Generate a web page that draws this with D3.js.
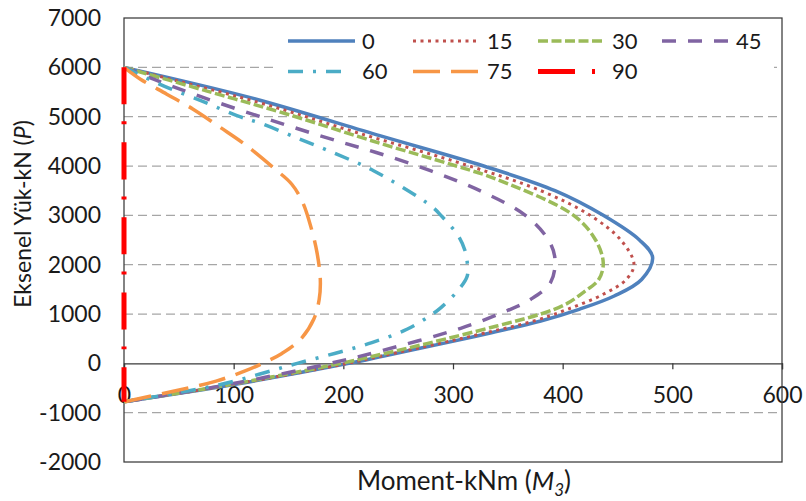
<!DOCTYPE html>
<html>
<head>
<meta charset="utf-8">
<script src="https://cdn.jsdelivr.net/npm/d3@7/dist/d3.min.js"></script>
<style>
  body { margin: 0; background: #fff; }
  text { font-family: Lato, "Open Sans", sans-serif; fill: #1a1a1a; }
</style>
</head>
<body>
<div id="chart"></div>
<script>
// angle of the moment axis, one curve for each
const angles = ['0', '15', '30', '45', '60', '75', '90'];

// axial load P (kN) and moment M3 (kNm), top to bottom
const load0 = [6000, 5370, 4610, 4000, 3500, 3000, 2500, 2150, 1700, 1365, 1095, 858, 620, 400, 150, 0, -430, -780];
const moment0 = [0, 118, 234, 328, 393, 437, 470, 482, 472, 447, 415, 380, 335, 290, 237, 205, 100, 0];

const load15 = [6000, 5300, 4680, 4000, 3500, 3000, 2500, 2010, 1700, 1400, 1100, 860, 620, 400, 150, 0, -430, -780];
const moment15 = [0, 121, 212, 315, 380, 425, 453, 465, 458, 437, 405, 374, 330, 287, 235, 204, 99, 0];

const load30 = [6000, 5523, 5050, 4456, 4000, 3730, 3000, 2500, 2040, 1704, 1440, 1200, 1000, 757, 400, 150, 0, -430, -780];
const moment30 = [0, 75, 149, 234, 303, 340, 410, 430, 437, 433, 419, 403, 380, 340, 276, 228, 198, 97, 0];

const load45 = [6000, 5760, 5390, 4915, 4510, 4274, 3900, 3495, 3000, 2500, 2110, 1640, 1300, 1000, 710, 250, 0, -430, -780];
const moment45 = [0, 27, 72, 136, 194, 230, 280, 325, 366, 387, 393, 389, 371, 342, 307, 234, 188, 95, 0];

const load60 = [6000, 5625, 5290, 5020, 4870, 4558, 4240, 3900, 3190, 2975, 2580, 2280, 2040, 1770, 1490, 1130, 950, 690, 420, 200, 0, -190, -430, -780];
const moment60 = [0, 36, 74, 103, 124, 159, 194, 228, 280, 290, 305, 311, 313, 313, 305, 289, 278, 258, 226, 192, 158, 128, 88, 0];

const load75 = [6000, 5760, 5456, 5152, 4780, 4442, 3950, 3630, 3260, 2718, 2245, 1704, 1298, 893, 487, 200, 47, -150, -360, -560, -780];
const moment75 = [0, 15, 39, 63, 88, 110, 137, 153, 163, 171, 176, 179, 178, 173, 161, 144, 131, 111, 84, 46, 0];

const load90 = [6000, 3000, 0, -780];
const moment90 = [0, 0, 0, 0];

const xTicks = [0, 100, 200, 300, 400, 500, 600];
const yTicks = [-2000, -1000, 0, 1000, 2000, 3000, 4000, 5000, 6000, 7000];

const loads = [load0, load15, load30, load45, load60, load75, load90];
const moments = [moment0, moment15, moment30, moment45, moment60, moment75, moment90];

const styles = [
  { color: '#4F81BD', width: 3.5, dash: null, legendLen: 67 },
  { color: '#C0504D', width: 3, dash: '3 4.5', legendLen: 67 },
  { color: '#9BBB59', width: 3.5, dash: '10 3.5', legendLen: 67 },
  { color: '#8064A2', width: 3.5, dash: '14 12', legendLen: 67 },
  { color: '#4BACC6', width: 3.5, dash: '15 10 3 10', legendLen: 55 },
  { color: '#F79646', width: 3.5, dash: '27 11', legendLen: 67 },
  { color: '#FF0000', width: 5, dash: '37 17 3 18', legendLen: 67 }
];

const width = 806, height = 501;
const margin = { top: 18, right: 24, bottom: 39, left: 124 };

const svg = d3.select('#chart').append('svg')
  .attr('width', width)
  .attr('height', height);

const x = d3.scaleLinear().domain([0, 600]).range([margin.left, width - margin.right]);
const y = d3.scaleLinear().domain([-2000, 7000]).range([height - margin.bottom, margin.top]);

// dashed grid lines
svg.append('g')
  .selectAll('line')
  .data(yTicks.filter(d => d !== 0 && d !== 7000 && d !== -2000))
  .join('line')
  .attr('x1', x(0)).attr('x2', x(600))
  .attr('y1', d => y(d)).attr('y2', d => y(d))
  .attr('stroke', '#a6a6a6')
  .attr('stroke-width', 1.25)
  .attr('stroke-dasharray', '9 5');

// y tick labels (plain hyphen for negatives)
const yAxis = svg.append('g')
  .attr('transform', `translate(${x(0)},0)`)
  .call(d3.axisLeft(y).tickValues(yTicks).tickSize(0).tickPadding(23).tickFormat(d => String(d)));
yAxis.select('.domain').remove();
yAxis.selectAll('text').style('font-size', '23px').attr('fill', '#1a1a1a');

// x axis sits at P = 0
const xAxis = svg.append('g')
  .attr('transform', `translate(0,${y(0)})`)
  .call(d3.axisBottom(x).tickValues(xTicks).tickSize(6).tickPadding(17).tickFormat(d => String(d)));
xAxis.select('.domain').attr('stroke', '#3a3a3a').attr('stroke-width', 1.25);
xAxis.selectAll('.tick line').attr('stroke', '#3a3a3a').attr('stroke-width', 1.25);
xAxis.selectAll('text').style('font-size', '23px').attr('fill', '#1a1a1a');

// plot frame
svg.append('rect')
  .attr('x', x(0)).attr('y', y(7000))
  .attr('width', x(600) - x(0))
  .attr('height', y(-2000) - y(7000))
  .attr('fill', 'none')
  .attr('stroke', '#3a3a3a')
  .attr('stroke-width', 1.25);

// legend background hides the grid behind it
svg.append('rect')
  .attr('x', 276).attr('y', 26)
  .attr('width', 498).attr('height', 60)
  .attr('fill', '#fff');

const line = d3.line()
  .x(d => x(d[1]))
  .y(d => y(d[0]))
  .curve(d3.curveCatmullRom.alpha(0.5));

angles.forEach((a, i) => {
  const pts = loads[i].map((p, j) => [p, moments[i][j]]);
  const s = styles[i];
  svg.append('path')
    .attr('d', line(pts))
    .attr('fill', 'none')
    .attr('stroke', s.color)
    .attr('stroke-width', s.width)
    .attr('stroke-dasharray', s.dash)
    .attr('stroke-linejoin', 'round');
});

// legend, two rows of four
const colX = [288, 413, 538, 662];
const rowY = [41, 71.5];
const legend = svg.append('g');
angles.forEach((a, i) => {
  const lx = colX[i % 4], ly = rowY[Math.floor(i / 4)];
  const s = styles[i];
  legend.append('line')
    .attr('x1', lx).attr('x2', lx + s.legendLen)
    .attr('y1', ly).attr('y2', ly)
    .attr('stroke', s.color)
    .attr('stroke-width', s.width)
    .attr('stroke-dasharray', s.dash);
  legend.append('text')
    .attr('x', lx + 74).attr('y', ly)
    .attr('dy', '0.35em')
    .style('font-size', '22px')
    .text(a);
});

// axis titles
const yTitle = svg.append('text')
  .attr('transform', 'translate(31,214) rotate(-90)')
  .attr('text-anchor', 'middle')
  .style('font-size', '23px');
yTitle.append('tspan').text('Eksenel Yük-kN (');
yTitle.append('tspan').style('font-style', 'italic').text('P');
yTitle.append('tspan').text(')');

const xTitle = svg.append('text')
  .attr('x', 464)
  .attr('y', 490)
  .attr('text-anchor', 'middle')
  .style('font-size', '26px');
xTitle.append('tspan').text('Moment-kNm (');
xTitle.append('tspan').style('font-style', 'italic').text('M');
xTitle.append('tspan').style('font-style', 'italic').style('font-size', '17px').attr('dy', 6).text('3');
xTitle.append('tspan').attr('dy', -6).text(')');
</script>
</body>
</html>
